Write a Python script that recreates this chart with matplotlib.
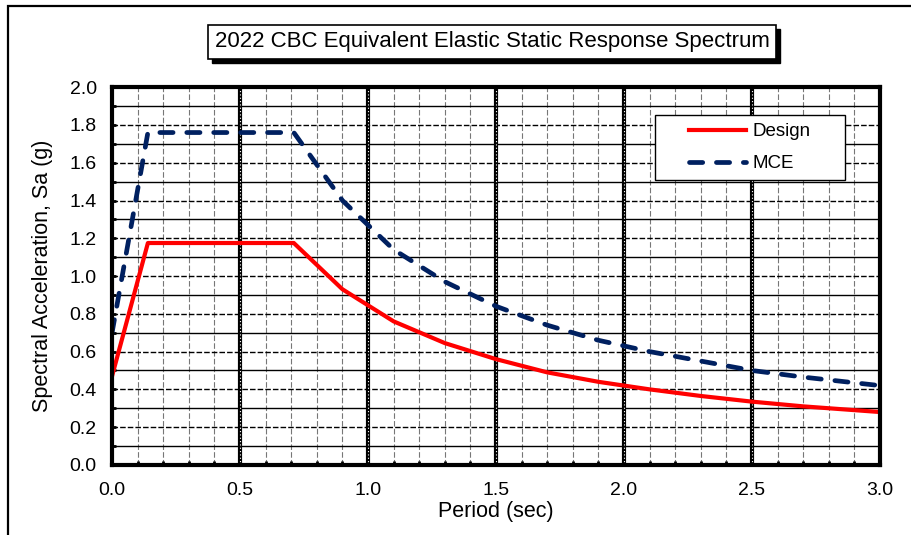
import matplotlib.pyplot as plt
from matplotlib.patches import Rectangle

# ================
# Data
# ================
period = [0.0, 0.14, 0.71, 0.9, 1.1, 1.3, 1.5, 1.7, 1.9, 2.1, 2.3, 2.5, 2.7, 2.9, 3.0]
design = [0.47, 1.175, 1.175, 0.93, 0.76, 0.645, 0.56, 0.49, 0.44, 0.40,
          0.365, 0.335, 0.31, 0.29, 0.28]
mce = [0.70, 1.76, 1.76, 1.40, 1.14, 0.97, 0.84, 0.74, 0.66, 0.60,
       0.55, 0.50, 0.465, 0.435, 0.42]

x_major = [0.0, 0.5, 1.0, 1.5, 2.0, 2.5, 3.0]
y_major = [0.0, 0.2, 0.4, 0.6, 0.8, 1.0, 1.2, 1.4, 1.6, 1.8, 2.0]
x_minor = [i / 10 for i in range(31)]
y_minor = [i / 10 for i in range(21)]

title = '2022 CBC Equivalent Elastic Static Response Spectrum'

plt.rcParams['font.family'] = ['Liberation Sans', 'DejaVu Sans']

fig = plt.figure(figsize=(9.11, 5.35), dpi=100)
ax = fig.add_axes([0.123, 0.131, 0.843, 0.706])

# outer chart border (runs off the right and bottom)
fig.patches.append(Rectangle((0.009, -0.2), 1.5, 1.189, transform=fig.transFigure,
                             fill=False, edgecolor='black', linewidth=1.6))

# ================
# Grid
# ================
for xv in x_minor:
    if xv in x_major or xv >= 3.0:
        continue
    ax.axvline(xv, color='#777777', linewidth=0.8, linestyle=(0, (5, 2)), zorder=1)
for yv in y_minor:
    if yv <= 0 or yv >= 2.0:
        continue
    if round(yv * 10) % 2 == 0:
        ax.axhline(yv, color='black', linewidth=1.0, linestyle=(0, (4, 1.5)), zorder=1)
    else:
        ax.axhline(yv, color='black', linewidth=1.0, zorder=1)
for xv in x_major[1:-1]:
    ax.axvline(xv, color='black', linewidth=3.0, zorder=2)
    ax.axvline(xv, color='white', linewidth=0.8, linestyle=(0, (1, 2)), zorder=2)

# ================
# Curves
# ================
ax.plot(period, design, color='#FF0000', linewidth=3.0, label='Design', zorder=4,
        solid_joinstyle='round')
ax.plot(period, mce, color='#002060', linewidth=3.4, linestyle=(0, (2.8, 2.9)),
        dash_capstyle='round', label='MCE', zorder=4)

ax.set_xlim(0, 3.0)
ax.set_ylim(0, 2.0)
ax.set_xticks(x_major)
ax.set_yticks(y_major)
ax.set_xticks(x_minor, minor=True)
ax.set_yticks(y_minor, minor=True)
ax.set_xticklabels([f'{v:.1f}' for v in x_major])
ax.set_yticklabels([f'{v:.1f}' for v in y_major])
ax.tick_params(which='both', direction='in', length=3, width=2, labelsize=14)
ax.tick_params(axis='x', pad=12.5)
ax.tick_params(axis='y', pad=11)
for sp in ax.spines.values():
    sp.set_linewidth(3)
    sp.set_zorder(5)

ax.set_xlabel('Period (sec)', fontsize=15.5, labelpad=1)
ax.set_ylabel('Spectral Acceleration, Sa (g)', fontsize=15.5, labelpad=12)

# legend: white box with frame, entries centred inside
ax.add_patch(Rectangle((0.707, 0.754), 0.247, 0.172, transform=ax.transAxes,
                       facecolor='white', edgecolor='black', linewidth=1.0, zorder=6))
leg = ax.legend(loc='center', bbox_to_anchor=(0.8305, 0.84), fontsize=13.5,
                frameon=False, handlelength=3.0, handletextpad=0.35,
                labelspacing=0.8, borderaxespad=0)
leg.set_zorder(7)

# ================
# Boxed title with shadow
# ================
t = fig.text(0.54, 0.922, title, ha='center', va='center', fontsize=16, zorder=10,
             bbox=dict(boxstyle='square,pad=0.3', facecolor='white', edgecolor='black',
                       linewidth=1.2))
fig.canvas.draw()
bb = t.get_bbox_patch().get_window_extent()
fig.patches.append(Rectangle((bb.x0 + 4, bb.y0 - 4), bb.width, bb.height,
                             transform=None, facecolor='black', edgecolor='black',
                             zorder=0))

fig.savefig('out.png', dpi=100)
